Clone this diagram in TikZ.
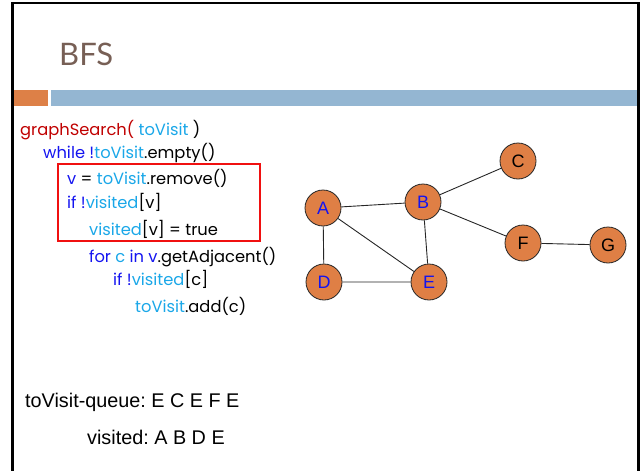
\documentclass[tikz,border=0pt]{standalone}
\usepackage{fontspec}
\setmainfont{Liberation Sans}
\newfontfamily\titlefont{Lato}
\newfontfamily\codefont{Poppins}
\newfontfamily\arialfont{Liberation Sans}
\definecolor{titlebrown}{HTML}{775F55}
\definecolor{barorange}{HTML}{DD8047}
\definecolor{barblue}{HTML}{94B6D2}
\definecolor{kwblue}{HTML}{1414F0}
\definecolor{varcyan}{HTML}{1AA7E8}
\definecolor{fnred}{HTML}{C00000}
\definecolor{boxred}{HTML}{F01010}
\definecolor{nodeorange}{HTML}{DF7F45}
\newcommand{\kw}[1]{\textcolor{kwblue}{#1}}
\newcommand{\vr}[1]{\textcolor{varcyan}{#1}}
\frenchspacing
\begin{document}
\begin{tikzpicture}[x=1pt,y=-1pt,
  codeline/.style={anchor=base west,inner sep=0pt,font=\codefont\fontsize{16.3}{18}\selectfont},
  gnode/.style={circle,draw=black!85,line width=0.8pt,fill=nodeorange,minimum size=36pt,inner sep=0pt,font=\arialfont\fontsize{18}{20}\selectfont},
  blue label/.style={text=kwblue},
  gedge/.style={draw=black!85,line width=0.9pt},
  plain/.style={anchor=base west,inner sep=0pt,font=\arialfont\fontsize{19.8}{22}\selectfont}]
\useasboundingbox (0,0) rectangle (640,471);
% slide frame
\draw[line width=2.6pt] (12.5,475) -- (12.5,3) -- (638.5,3) -- (638.5,475);
% title and header bars
\node[anchor=base west,inner sep=0pt,text=titlebrown,font=\titlefont\fontsize{31}{33}\selectfont] (title) at (59,65) {BFS};
\fill[barorange] (14,90) rectangle (48,106);
\fill[barblue] (51,90) rectangle (637,106);
% pseudocode
\node[codeline] (l1) at (20,135) {\textcolor{fnred}{graphSearch(} \vr{toVisit} )};
\node[codeline] (l2) at (43,158) {\kw{while !}\vr{toVisit}.empty()};
\node[codeline] (l3) at (67,184) {\kw{v} = \vr{toVisit}.remove()};
\node[codeline] (l4) at (67,208) {\kw{if !}\vr{visited}[v]};
\node[codeline] (l5) at (89,235) {\vr{visited}[v] = true};
\node[codeline] (l6) at (89,262) {\kw{for} \vr{c} \kw{in} \kw{v}.getAdjacent()};
\node[codeline] (l7) at (113,285) {\kw{if !}\vr{visited}[c]};
\node[codeline] (l8) at (135,312) {\vr{toVisit}.add(c)};
% highlighted block
\draw[boxred,line width=2pt] (58,164) rectangle (260,241);
% graph
\node[gnode,blue label] (A) at (323,208) {A};
\node[gnode,blue label] (B) at (423,202) {B};
\node[gnode] (C) at (518,161) {C};
\node[gnode,blue label] (D) at (324,282) {D};
\node[gnode,blue label] (E) at (429,282) {E};
\node[gnode] (F) at (523,243) {F};
\node[gnode] (G) at (608,245) {G};
\path[gedge] (A) -- (B) (A) -- (D) (A) -- (E) (B) -- (E) (B) -- (C) (B) -- (F) (D) -- (E) (F) -- (G);
% state of the search
\node[plain] (queue) at (25,407) {toVisit-queue: E C E F E};
\node[plain] (visited) at (87,444) {visited: A B D E};
\end{tikzpicture}
\end{document}
